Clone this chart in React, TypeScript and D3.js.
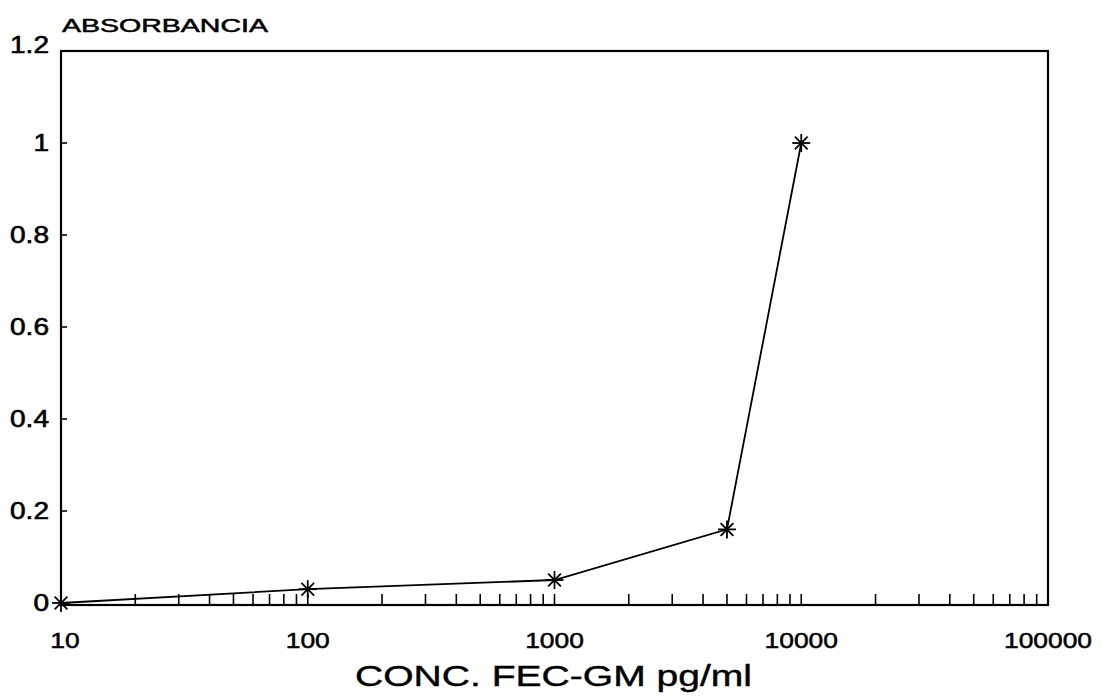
import React from "react";
import * as d3 from "d3";

const concentrations = [10, 100, 1000, 5000, 10000];
const absorbance = [0, 0.03, 0.05, 0.16, 1.0];
const yTicks = [0, 0.2, 0.4, 0.6, 0.8, 1, 1.2];
const yTickLabels = ["0", "0.2", "0.4", "0.6", "0.8", "1", "1.2"];
const xTicks = [10, 100, 1000, 10000, 100000];
const xTickLabels = ["10", "100", "1000", "10000", "100000"];
const yTitle = "ABSORBANCIA";
const xTitle = "CONC. FEC-GM pg/ml";

const W = 1102;
const H = 699;
const left = 61;
const right = 1048;
const top = 51;
const bottom = 605;
const FONT = "'Liberation Sans', Arial, Helvetica, sans-serif";

export default function App() {
  const x = d3.scaleLog().domain([10, 100000]).range([left, right]);
  const y = d3.scaleLinear().domain([0, 1.2]).range([603, top]);

  const minor: number[] = [];
  for (let d = 10; d < 100000; d *= 10) {
    for (let m = 2; m <= 9; m++) minor.push(d * m);
  }

  const line = d3
    .line<number>()
    .x((_, i) => x(concentrations[i]))
    .y((v) => y(v));

  const star = (cx: number, cy: number, k: number) => {
    const r = 9;
    const segs = [0, 45, 90, 135].map((a) => {
      const rad = (a * Math.PI) / 180;
      const dx = Math.cos(rad) * r;
      const dy = Math.sin(rad) * r;
      return (
        <line
          key={a}
          x1={cx - dx}
          y1={cy - dy}
          x2={cx + dx}
          y2={cy + dy}
          stroke="#000"
          strokeWidth={1.8}
        />
      );
    });
    return <g key={k}>{segs}</g>;
  };

  return (
    <svg
      width={W}
      height={H}
      style={{ position: "absolute", left: 0, top: 0, background: "#fff" }}
    >
      <rect x={0} y={0} width={W} height={H} fill="#fff" />
      <rect
        x={left}
        y={top}
        width={right - left}
        height={bottom - top}
        fill="none"
        stroke="#000"
        strokeWidth={2.2}
      />
      {yTicks.slice(1, -1).map((v) => (
        <line
          key={"yt" + v}
          x1={left}
          x2={left + 6}
          y1={y(v)}
          y2={y(v)}
          stroke="#000"
          strokeWidth={1.6}
        />
      ))}
      {minor.map((v) => (
        <line
          key={v}
          x1={x(v)}
          x2={x(v)}
          y1={bottom}
          y2={bottom - 11}
          stroke="#000"
          strokeWidth={1.6}
        />
      ))}
      {xTicks.slice(1, -1).map((v) => (
        <line
          key={"M" + v}
          x1={x(v)}
          x2={x(v)}
          y1={bottom}
          y2={bottom - 11}
          stroke="#000"
          strokeWidth={1.6}
        />
      ))}
      <path
        d={line(absorbance) || ""}
        fill="none"
        stroke="#000"
        strokeWidth={1.8}
      />
      {absorbance.map((v, i) => star(x(concentrations[i]), y(v), i))}
      {yTicks.map((v, i) => (
        <g
          key={"y" + v}
          transform={`translate(49,${y(v) + 8 - (i === yTicks.length - 1 ? 6 : 0)}) scale(1.22,1)`}
        >
          <text
            x={0}
            y={0}
            textAnchor="end"
            fontFamily={FONT}
            fontSize={23}
            stroke="#000"
            strokeWidth={0.6}
          >
            {yTickLabels[i]}
          </text>
        </g>
      ))}
      {xTicks.map((v, i) => (
        <g
          key={"x" + v}
          transform={`translate(${x(v) + (i === 0 ? 4 : 0)},648) scale(1.2,1)`}
        >
          <text
            x={0}
            y={0}
            textAnchor="middle"
            fontFamily={FONT}
            fontSize={22}
            stroke="#000"
            strokeWidth={0.5}
          >
            {xTickLabels[i]}
          </text>
        </g>
      ))}
      <text
        x={62}
        y={32}
        fontFamily={FONT}
        fontSize={18}
        textLength={206}
        lengthAdjust="spacingAndGlyphs"
        stroke="#000"
        strokeWidth={0.5}
      >
        {yTitle}
      </text>
      <text
        x={355}
        y={686}
        fontFamily={FONT}
        fontSize={29}
        textLength={397}
        lengthAdjust="spacingAndGlyphs"
        stroke="#000"
        strokeWidth={0.4}
      >
        {xTitle}
      </text>
    </svg>
  );
}
